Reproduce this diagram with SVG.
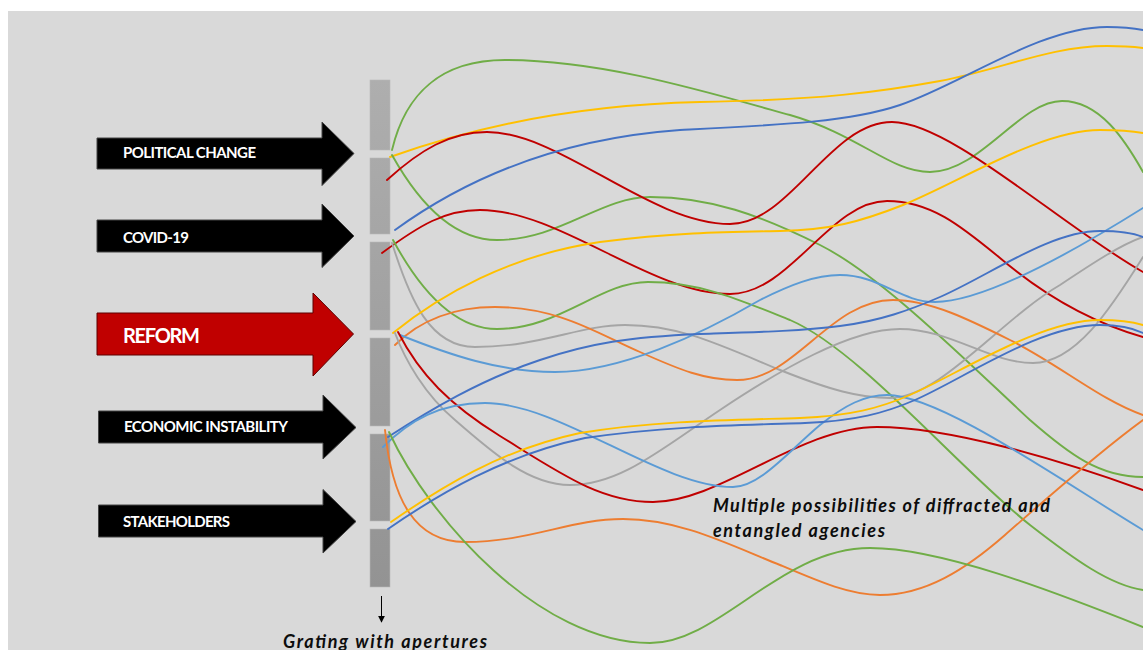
<svg xmlns="http://www.w3.org/2000/svg" width="1143" height="650" viewBox="0 0 1143 650">
<defs>
<style>
.arr{fill:#000;stroke:#444;stroke-width:1}
.arr-red{fill:#C00000;stroke:#5e0000;stroke-width:1}
.lbl{font-family:"Lato","Liberation Sans",sans-serif;font-weight:bold;fill:#fff}
.cap{font-family:"Lato","Liberation Sans",sans-serif;font-weight:bold;font-style:italic;fill:#0d0d0d}
.bar{fill:url(#gr);stroke:#b8b8b8;stroke-width:0.6}
.c{fill:none;stroke-width:1.9;stroke-linecap:round}
.g{stroke:#70AD47}.y{stroke:#FFC000}.r{stroke:#C00000}.b{stroke:#4472C4}.lb{stroke:#5B9BD5}.o{stroke:#ED7D31}.gy{stroke:#A5A5A5}
</style>
<linearGradient id="gr" gradientUnits="userSpaceOnUse" x1="0" y1="80" x2="0" y2="587">
<stop offset="0" stop-color="#AEAEAE"/>
<stop offset="1" stop-color="#939393"/>
</linearGradient>
<marker id="ah" viewBox="0 0 10 10" refX="9" refY="5" markerWidth="7" markerHeight="7" markerUnits="userSpaceOnUse" orient="auto">
<path d="M0,0 L10,5 L0,10 Z" fill="#000"/>
</marker>
</defs>
<rect x="8" y="11" width="1135" height="639" fill="#D9D9D9"/>

<g id="grating">
<rect class="bar" x="370" y="80" width="20" height="70"/>
<rect class="bar" x="370" y="158" width="20" height="76"/>
<rect class="bar" x="370" y="242" width="20" height="88"/>
<rect class="bar" x="370" y="338" width="20" height="88"/>
<rect class="bar" x="370" y="434" width="20" height="87"/>
<rect class="bar" x="370" y="529" width="20" height="58"/>
<line x1="381.5" y1="596" x2="381.5" y2="622" stroke="#000" stroke-width="1" marker-end="url(#ah)"/>
</g>

<g id="connectors">
<!-- aperture 1 -->
<path class="c g" d="M392,150 C405,95 440,60 505,60 C600,60 700,90 790,115 C860,135 890,172 930,172 C980,172 1020,101 1062,101 C1100,101 1125,140 1143,172"/>
<path class="c y" d="M390,157 C460,132 560,105 700,102 C820,100 880,92 940,81 C1000,70 1050,46 1107,46 C1125,46 1135,47 1143,48"/>
<path class="c g" d="M392,155 C420,205 455,240 497,240 C560,240 600,197 650,197 C710,197 760,215 820,245 C880,275 960,355 1030,420 C1070,455 1100,477 1143,477"/>
<path class="c r" d="M387,180 C420,150 450,132 487,132 C560,132 650,224 730,224 C790,224 830,122 892,122 C950,122 1060,225 1143,272"/>
<!-- aperture 2 -->
<path class="c b" d="M395,230 C450,190 540,140 680,130 C780,125 850,122 900,105 C960,85 1040,27 1107,27 C1120,27 1133,28 1143,30"/>
<path class="c r" d="M382,253 C420,225 445,210 480,210 C560,210 650,294 730,294 C790,294 830,201 887,201 C930,201 960,225 1000,258 C1040,292 1090,322 1143,337"/>
<path class="c g" d="M393,240 C420,290 455,329 497,329 C560,329 600,282 648,282 C700,282 740,300 790,320 C860,350 960,470 1030,525 C1075,560 1110,585 1143,590"/>
<path class="c gy" d="M392,243 C410,300 430,347 475,347 C540,347 580,325 625,325 C680,325 720,345 780,370 C830,390 860,398 890,398 C940,398 1000,320 1060,285 C1090,265 1120,245 1143,237"/>
<!-- aperture 3 -->
<path class="c y" d="M393,333 C440,295 510,255 600,242 C680,232 730,232 780,231 C830,230 860,222 903,205 C960,182 1040,130 1100,130 C1120,130 1132,131 1143,133"/>
<path class="c o" d="M395,345 C420,320 455,307 495,307 C560,307 600,335 640,352 C680,370 705,380 737,380 C795,380 830,300 893,300 C930,300 970,320 1010,340 C1060,365 1100,400 1143,415"/>
<path class="c lb" d="M400,335 C450,355 500,372 555,372 C620,372 700,335 760,300 C790,285 815,275 840,275 C880,275 900,302 935,302 C980,302 1060,260 1143,208"/>
<path class="c gy" d="M395,333 C405,360 425,395 455,420 C495,455 530,485 570,485 C620,485 660,450 720,410 C780,370 850,329 900,329 C950,329 990,363 1033,363 C1075,363 1110,310 1143,257"/>
<path class="c r" d="M398,332 C420,375 450,405 500,436 C560,473 600,502 653,502 C720,502 800,427 877,427 C950,427 1060,460 1143,490"/>
<!-- aperture 4 -->
<path class="c b" d="M388,437 C430,410 480,380 540,360 C590,343 630,337 700,334 C760,332 800,331 840,326 C880,321 910,310 940,297 C990,275 1050,231 1100,231 C1120,231 1133,233 1143,237"/>
<path class="c lb" d="M383,447 C410,420 440,403 485,403 C560,403 660,487 733,487 C760,487 790,450 820,425 C845,405 865,395 887,395 C940,395 1060,480 1143,530"/>
<path class="c o" d="M385,430 C392,500 415,542 465,542 C530,542 570,519 623,519 C680,519 730,545 780,565 C820,582 850,595 880,595 C925,595 965,570 1005,535 C1045,500 1095,455 1143,420"/>
<path class="c g" d="M389,432 C430,520 540,643 650,643 C720,643 780,548 870,548 C940,548 1050,590 1143,627"/>
<!-- aperture 5 -->
<path class="c b" d="M388,529 C440,493 505,455 585,438 C665,426 745,425 805,423 C855,421 885,413 915,400 C965,378 1040,325 1100,325 C1120,325 1133,328 1143,333"/>
<path class="c y" d="M391,522 C440,488 500,450 580,433 C660,420 740,420 800,418 C850,416 880,408 910,395 C960,373 1040,320 1100,320 C1120,320 1133,322 1143,325"/>
</g>

<g id="political-change">
<path class="arr" d="M97,138 H322 V122 L354,153.5 L322,185.5 V169 H97 Z"/>
<text class="lbl" x="123" y="157.5" font-size="15" textLength="133">POLITICAL CHANGE</text>
</g>
<g id="covid-19">
<path class="arr" d="M97,220 H322 V204 L354,236 L322,267.5 V252 H97 Z"/>
<text class="lbl" x="123" y="243" font-size="15" textLength="66">COVID-19</text>
</g>
<g id="reform">
<path class="arr-red" d="M97,313 H313 V293 L353.5,334 L313,376 V355 H97 Z"/>
<text class="lbl" x="123" y="342.5" font-size="20" textLength="77">REFORM</text>
</g>
<g id="economic-instability">
<path class="arr" d="M98.5,411 H323 V395 L356,427.5 L323,459 V443 H98.5 Z"/>
<text class="lbl" x="124" y="431.5" font-size="15" textLength="164">ECONOMIC INSTABILITY</text>
</g>
<g id="stakeholders">
<path class="arr" d="M98.5,505 H323 V489.5 L356,521.5 L323,553 V537 H98.5 Z"/>
<text class="lbl" x="123" y="526.5" font-size="15" textLength="107">STAKEHOLDERS</text>
</g>

<g id="caption-agencies">
<text class="cap" x="713" y="511.5" font-size="18" textLength="337">Multiple possibilities of diffracted and</text>
<text class="cap" x="713" y="536.5" font-size="18" textLength="172">entangled agencies</text>
</g>
<g id="caption-grating">
<text class="cap" x="283" y="648" font-size="18" textLength="204">Grating with apertures</text>
</g>
</svg>
